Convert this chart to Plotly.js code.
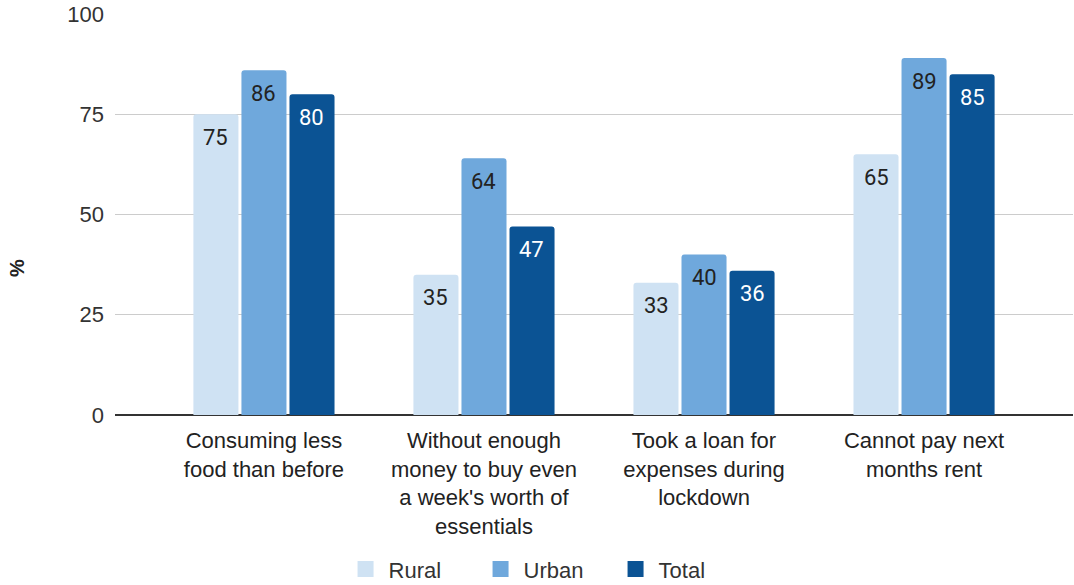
<!DOCTYPE html>
<html>
<head>
<meta charset="utf-8">
<script src="https://cdn.plot.ly/plotly-3.0.1.min.js"></script>
<style>html,body{margin:0;padding:0;background:#fff;}#chart{width:1074px;height:585px;}</style>
</head>
<body>
<div id="chart"></div>
<script>
const categories = [
  "Consuming less<br>food than before",
  "Without enough<br>money to buy even<br>a week's worth of<br>essentials",
  "Took a loan for<br>expenses during<br>lockdown",
  "Cannot pay next<br>months rent"
];
const seriesNames = ["Rural", "Urban", "Total"];
const rural = [75, 35, 33, 65];
const urban = [86, 64, 40, 89];
const total = [80, 47, 36, 85];
const yTicks = [0, 25, 50, 75, 100];

const colors = ["#cfe2f3", "#6fa8dc", "#0b5394"];
const labelColors = ["#222222", "#222222", "#ffffff"];
const allSeries = [rural, urban, total];

const traces = allSeries.map((vals, s) => ({
  type: "bar",
  name: seriesNames[s],
  x: categories,
  y: vals,
  marker: {color: colors[s]},
  showlegend: false,
  hoverinfo: "skip"
}));
// legend keys (larger square symbols)
seriesNames.forEach((nm, s) => {
  traces.push({
    type: "scatter", mode: "markers", name: nm,
    x: [null], y: [null],
    marker: {symbol: "square", size: 16, color: colors[s]},
    showlegend: true, hoverinfo: "skip"
  });
});

const offsets = [-48, 0, 48];
const annotations = [];
allSeries.forEach((vals, s) => {
  vals.forEach((v, i) => {
    annotations.push({
      x: i, y: v, xref: "x", yref: "y",
      text: String(v), showarrow: false,
      xshift: offsets[s], yshift: -23,
      xanchor: "center", yanchor: "middle",
      font: {family: "Roboto, sans-serif", size: 22, color: labelColors[s]}
    });
  });
});
annotations.push({
  text: "<b>%</b>", showarrow: false, textangle: -90,
  xref: "paper", yref: "paper",
  x: (17 - 115) / 958, y: (415 - 268) / 401,
  xanchor: "center", yanchor: "middle",
  font: {family: "Arial, 'Liberation Sans', sans-serif", size: 20, color: "#222"}
});

const layout = {
  width: 1074, height: 585,
  margin: {l: 115, r: 1, t: 14, b: 170},
  paper_bgcolor: "#fff", plot_bgcolor: "#fff",
  font: {family: "Arial, 'Liberation Sans', sans-serif", size: 22, color: "#222"},
  barmode: "group",
  bargap: 0.345,
  bargroupgap: 0.0625,
  barcornerradius: 3,
  xaxis: {
    type: "category",
    range: [-0.677, 3.677],
    showgrid: false, zeroline: false, showline: false,
    ticks: "",
    ticklabelstandoff: 10,
    tickfont: {size: 22, color: "#222"},
    fixedrange: true
  },
  yaxis: {
    range: [0, 100],
    tickvals: yTicks,
    ticktext: yTicks.map(String),
    showgrid: true, gridcolor: "#cccccc", gridwidth: 1,
    zeroline: true, zerolinecolor: "#333333", zerolinewidth: 1.3,
    showline: false, ticks: "",
    ticklabelstandoff: 10,
    tickfont: {size: 22, color: "#333"},
    fixedrange: true
  },
  showlegend: true,
  legend: {
    orientation: "h",
    xref: "container", yref: "container",
    x: 0.5075, xanchor: "center",
    y: 0.027, yanchor: "middle",
    font: {size: 22, color: "#333"},
    traceorder: "normal",
    itemwidth: 36,
    entrywidth: 84, entrywidthmode: "pixels"
  },
  annotations: annotations
};

Plotly.newPlot("chart", traces, layout, {staticPlot: true, displayModeBar: false});
</script>
</body>
</html>
